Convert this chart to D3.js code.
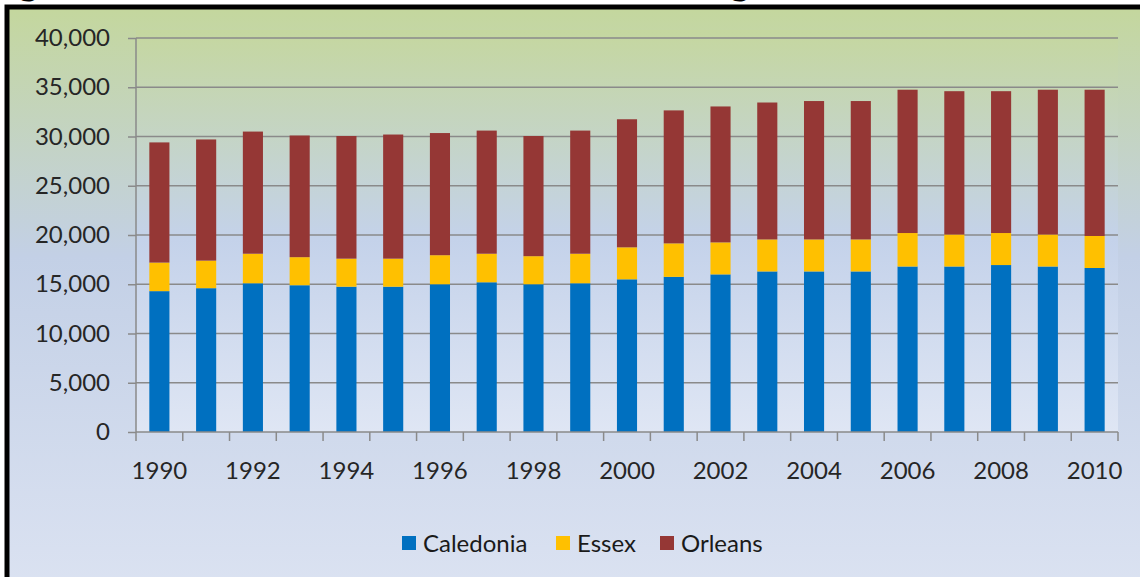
<!DOCTYPE html>
<html>
<head>
<meta charset="utf-8">
<script src="https://cdn.jsdelivr.net/npm/d3@7"></script>
<style>
  body { margin: 0; background: #fff; }
  svg { display: block; font-family: Lato, "Open Sans", sans-serif; }
</style>
</head>
<body>
<script>
var svgWidth = 1140; // ancho
var svgHeight = 577; // alto

// datos
var years = d3.range(1990, 2011);
var caledonia = [14300, 14600, 15100, 14900, 14750, 14750, 15000, 15200, 15000, 15100, 15500,
                 15750, 16000, 16300, 16300, 16300, 16800, 16800, 16950, 16800, 16650];
var essex = [2900, 2800, 3000, 2850, 2850, 2850, 2950, 2900, 2850, 3000, 3250,
             3400, 3250, 3250, 3250, 3250, 3400, 3250, 3250, 3250, 3250];
var orleans = [12200, 12300, 12400, 12350, 12450, 12600, 12400, 12500, 12200, 12500, 13000,
               13500, 13800, 13900, 14050, 14050, 14550, 14550, 14400, 14700, 14850];
var seriesNames = ["Caledonia", "Essex", "Orleans"];
var colors = ["#0070c0", "#ffc000", "#953735"];
var yTicks = [0, 5000, 10000, 15000, 20000, 25000, 30000, 35000, 40000];

var plot = { left: 136, right: 1118, top: 38, bottom: 432 };

var svg = d3.select("body")
  .append("svg")
  .attr("width", svgWidth)
  .attr("height", svgHeight);

var defs = svg.append("defs");

var bg = defs.append("linearGradient").attr("id", "bgGrad")
  .attr("x1", 0).attr("y1", 0).attr("x2", 0).attr("y2", 1);
bg.append("stop").attr("offset", "0%").attr("stop-color", "#c4d79d");
bg.append("stop").attr("offset", "42%").attr("stop-color", "#c3d0e6");
bg.append("stop").attr("offset", "100%").attr("stop-color", "#dce3f2");

var pg = defs.append("linearGradient").attr("id", "plotGrad")
  .attr("x1", 0).attr("y1", 0).attr("x2", 0).attr("y2", 1);
pg.append("stop").attr("offset", "0%").attr("stop-color", "#c5d79f");
pg.append("stop").attr("offset", "52%").attr("stop-color", "#c4d2ea");
pg.append("stop").attr("offset", "100%").attr("stop-color", "#dfe6f4");

// titulo (cortado arriba, como en el original)
svg.append("text")
  .attr("x", -15)
  .attr("y", -6)
  .attr("font-weight", "bold")
  .attr("font-size", 40)
  .attr("fill", "#000")
  .text("Figure 1: Labor Force in the Northeast Kingdom, 1990 - 2010");

// fondo y marco
svg.append("rect")
  .attr("x", 7).attr("y", 7)
  .attr("width", svgWidth + 20).attr("height", svgHeight + 20)
  .attr("fill", "url(#bgGrad)")
  .attr("stroke", "#000")
  .attr("stroke-width", 5);

svg.append("rect")
  .attr("x", plot.left).attr("y", 30)
  .attr("width", plot.right - plot.left).attr("height", plot.bottom - 30)
  .attr("fill", "url(#plotGrad)");

// escalas
var xScale = d3.scaleBand()
  .domain(years)
  .range([plot.left, plot.right])
  .paddingInner(0.57)
  .paddingOuter(0.285);

var yScale = d3.scaleLinear()
  .domain([0, 40000])
  .range([plot.bottom, plot.top]);

// lineas de rejilla
svg.append("g")
  .selectAll("line")
  .data(yTicks.slice(1))
  .enter().append("line")
  .attr("x1", plot.left).attr("x2", plot.right)
  .attr("y1", function(d) { return yScale(d); })
  .attr("y2", function(d) { return yScale(d); })
  .attr("stroke", "#8a8a8a")
  .attr("stroke-width", 1.5);

// barras apiladas
var rows = years.map(function(y, i) {
  return { year: y, Caledonia: caledonia[i], Essex: essex[i], Orleans: orleans[i] };
});
var stacked = d3.stack().keys(seriesNames)(rows);

svg.append("g")
  .selectAll("g")
  .data(stacked)
  .enter().append("g")
  .attr("fill", function(d, i) { return colors[i]; })
  .selectAll("rect")
  .data(function(d) { return d; })
  .enter().append("rect")
  .attr("x", function(d) { return xScale(d.data.year); })
  .attr("y", function(d) { return yScale(d[1]); })
  .attr("width", xScale.bandwidth())
  .attr("height", function(d) { return yScale(d[0]) - yScale(d[1]); });

// eje y
var yAxis = svg.append("g")
  .attr("transform", "translate(" + plot.left + ",0)")
  .call(d3.axisLeft(yScale).tickValues(yTicks).tickSize(8).tickPadding(18)
    .tickFormat(d3.format(",")));
yAxis.attr("font-family", null).attr("font-size", null);
yAxis.select(".domain").remove();
yAxis.selectAll("line").attr("stroke", "#8a8a8a").attr("stroke-width", 1.5);
yAxis.selectAll("text").attr("font-size", 24).attr("fill", "#262626");

svg.append("line")
  .attr("x1", plot.left).attr("x2", plot.left)
  .attr("y1", plot.top).attr("y2", plot.bottom)
  .attr("stroke", "#8a8a8a").attr("stroke-width", 1.5);

// eje x
var xAxis = svg.append("g")
  .attr("transform", "translate(0," + plot.bottom + ")")
  .call(d3.axisBottom(xScale).tickSize(0).tickPadding(30)
    .tickFormat(function(d) { return d % 2 === 0 ? d : ""; }));
xAxis.attr("font-family", null).attr("font-size", null);
xAxis.select(".domain").remove();
xAxis.selectAll("text").attr("font-size", 24).attr("fill", "#262626");

var step = xScale.step();
svg.append("g")
  .selectAll("line")
  .data(d3.range(years.length + 1))
  .enter().append("line")
  .attr("x1", function(i) { return plot.left + i * step; })
  .attr("x2", function(i) { return plot.left + i * step; })
  .attr("y1", plot.bottom).attr("y2", plot.bottom + 9)
  .attr("stroke", "#8a8a8a").attr("stroke-width", 1.5);

svg.append("line")
  .attr("x1", plot.left).attr("x2", plot.right)
  .attr("y1", plot.bottom).attr("y2", plot.bottom)
  .attr("stroke", "#8a8a8a").attr("stroke-width", 1.5);

// leyenda
var legendX = [402, 556, 660];
var legend = svg.append("g")
  .selectAll("g")
  .data(seriesNames)
  .enter().append("g")
  .attr("transform", function(d, i) { return "translate(" + legendX[i] + ",536)"; });
legend.append("rect")
  .attr("width", 14).attr("height", 14)
  .attr("fill", function(d, i) { return colors[i]; });
legend.append("text")
  .attr("x", 21).attr("y", 7).attr("dy", "0.36em")
  .attr("font-size", 24).attr("fill", "#1a1a1a")
  .text(function(d) { return d; });
</script>
</body>
</html>
